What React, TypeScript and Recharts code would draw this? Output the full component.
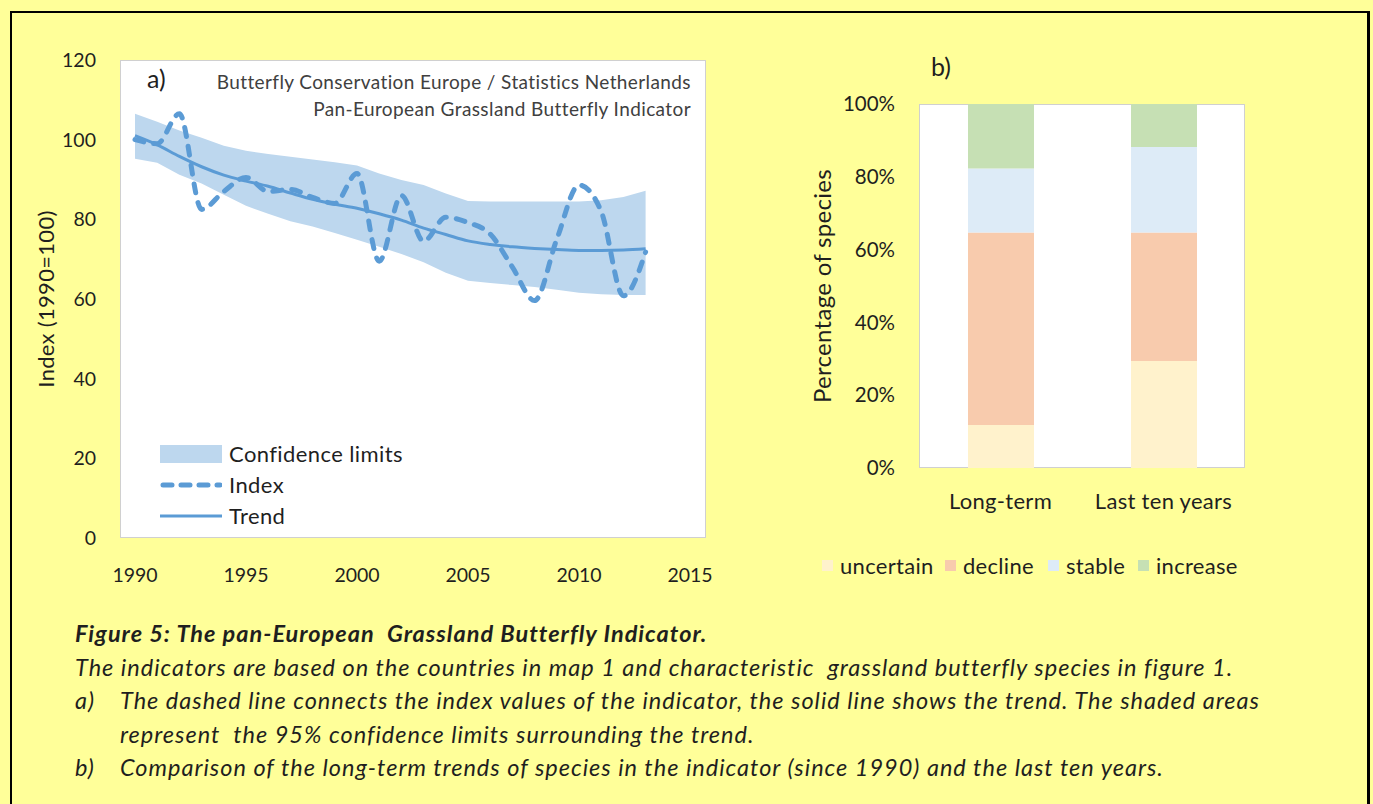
import React from 'react';
import { ComposedChart, Area, Line, XAxis, YAxis, BarChart, Bar, Legend } from 'recharts';

// panel a: grassland butterfly indicator (1990 = 100)
const years = [1990, 1991, 1992, 1993, 1994, 1995, 1996, 1997, 1998, 1999, 2000, 2001, 2002, 2003, 2004, 2005, 2006, 2007, 2008, 2009, 2010, 2011, 2012, 2013];
const indexValues = [100, 99, 106.5, 82.5, 87, 90.5, 87, 87.5, 85.5, 84, 91.5, 69.5, 86, 74.5, 80.5, 79.2, 76.3, 68, 59.6, 75, 88.6, 82, 60.8, 71.8];
const trendValues = [101, 98.7, 95.8, 93.2, 91.1, 89.6, 88.3, 86.6, 85.0, 83.8, 82.8, 81.4, 79.8, 77.8, 76.2, 74.6, 73.7, 73.1, 72.7, 72.4, 72.2, 72.2, 72.3, 72.6];
const upperLimits = [106.5, 104.5, 102.3, 100.5, 98.5, 97.2, 96.4, 95.7, 95.0, 94.3, 93.5, 91.5, 89.9, 88.6, 86.5, 84.6, 84.5, 84.5, 84.5, 84.5, 84.5, 84.8, 85.6, 87.2];
const lowerLimits = [95.2, 94.2, 91.2, 89.0, 86.2, 83.4, 81.4, 79.5, 78.2, 76.6, 74.9, 73.1, 71.3, 69.2, 66.6, 64.6, 64.0, 63.5, 63.0, 62.3, 61.6, 61.2, 61.0, 61.0];
const yearTicks = [1990, 1995, 2000, 2005, 2010, 2015];
const indexTicks = [0, 20, 40, 60, 80, 100, 120];

// panel b: share of species per trend class
const periods = ['Long-term', 'Last ten years'];
const uncertainPct = [11.8, 29.4];
const declinePct = [52.9, 35.3];
const stablePct = [17.6, 23.5];
const increasePct = [17.7, 11.8];
const pctTicks = [0, 20, 40, 60, 80, 100];

const FONT = 'Lato, "Open Sans", sans-serif';
const BLUE = '#5B9BD5';
const BAND = '#BDD7EE';
const INK = '#1f1f1f';

const indicatorData = years.map((year, i) => ({
  year,
  index: indexValues[i],
  trend: trendValues[i],
  band: [lowerLimits[i], upperLimits[i]],
}));

const speciesData = periods.map((period, i) => ({
  period,
  uncertain: uncertainPct[i],
  decline: declinePct[i],
  stable: stablePct[i],
  increase: increasePct[i],
}));

const classes = [
  { key: 'uncertain', color: '#FFF2CC', slot: 123 },
  { key: 'decline', color: '#F8CBAD', slot: 103 },
  { key: 'stable', color: '#DDEBF7', slot: 90 },
  { key: 'increase', color: '#C6E0B4', slot: 100 },
];

function IndicatorLegend() {
  const row = { display: 'flex', alignItems: 'center', height: 31 } as const;
  return (
    <div style={{ fontFamily: FONT, fontSize: 22, letterSpacing: 0.4, color: INK }}>
      <div style={row}>
        <svg width={62} height={18}><rect x={0} y={0} width={62} height={18} fill={BAND} /></svg>
        <span style={{ marginLeft: 7 }}>Confidence limits</span>
      </div>
      <div style={row}>
        <svg width={62} height={18}>
          <line x1={3} y1={9} x2={60} y2={9} stroke={BLUE} strokeWidth={5} strokeDasharray="9 9" strokeLinecap="round" />
        </svg>
        <span style={{ marginLeft: 7 }}>Index</span>
      </div>
      <div style={row}>
        <svg width={62} height={18}><line x1={0} y1={9} x2={62} y2={9} stroke={BLUE} strokeWidth={3} /></svg>
        <span style={{ marginLeft: 7 }}>Trend</span>
      </div>
    </div>
  );
}

function SpeciesLegend() {
  return (
    <div style={{ display: 'flex', alignItems: 'center', fontFamily: FONT, fontSize: 22, letterSpacing: 0.3, color: INK, whiteSpace: 'nowrap' }}>
      {classes.map((c) => (
        <div key={c.key} style={{ display: 'flex', alignItems: 'center', width: c.slot }}>
          <span style={{ display: 'inline-block', width: 11, height: 11, background: c.color, marginRight: 7 }} />
          <span>{c.key}</span>
        </div>
      ))}
    </div>
  );
}

const tickStyle = { fontFamily: FONT, fontSize: 19.5, fill: INK };

export default function App() {
  return (
    <div style={{ position: 'absolute', left: 0, top: 0, width: 1373, height: 804, background: '#FFFF99', overflow: 'hidden', fontFamily: FONT }}>
      <div style={{ position: 'absolute', left: 10, top: 11, width: 1360, height: 820, border: '2px solid #000', borderRightWidth: 3, boxSizing: 'border-box' }} />

      {/* panel a */}
      <div style={{ position: 'absolute', left: 120, top: 60, width: 586, height: 478, background: '#fff', border: '1px solid #d0d0d0', boxSizing: 'border-box' }} />
      <div style={{ position: 'absolute', left: 0, top: 0 }}>
        <ComposedChart width={720} height={600} data={indicatorData} margin={{ top: 60, right: 30, bottom: 20, left: 0 }}>
          <XAxis
            type="number"
            dataKey="year"
            domain={[1990, 2015]}
            ticks={yearTicks}
            axisLine={false}
            tickLine={false}
            tickSize={0}
            tickMargin={30}
            height={42}
            tick={tickStyle}
          />
          <YAxis
            domain={[0, 120]}
            ticks={indexTicks}
            axisLine={false}
            tickLine={false}
            tickSize={0}
            tickMargin={39}
            width={135}
            tick={tickStyle}
            label={{ value: 'Index (1990=100)', angle: -90, position: 'insideLeft', offset: 46, style: { textAnchor: 'middle', fontFamily: FONT, fontSize: 22, letterSpacing: 0.3, fill: INK } }}
          />
          <Area dataKey="band" name="Confidence limits" type="linear" stroke="none" fill={BAND} fillOpacity={1} isAnimationActive={false} />
          <Line dataKey="trend" name="Trend" type="monotone" stroke={BLUE} strokeWidth={3} dot={false} isAnimationActive={false} />
          <Line dataKey="index" name="Index" type="monotone" stroke={BLUE} strokeWidth={5} strokeDasharray="9 10" strokeLinecap="round" dot={false} isAnimationActive={false} />
          <Legend layout="horizontal" verticalAlign="middle" align="center" content={() => <IndicatorLegend />} wrapperStyle={{ left: 160, top: 438, width: 320 }} />
        </ComposedChart>
      </div>
      <div style={{ position: 'absolute', left: 147, top: 63, fontSize: 25, color: INK }}>a)</div>
      <div style={{ position: 'absolute', left: 0, top: 68, width: 691, textAlign: 'right', fontSize: 19, letterSpacing: 0.4, lineHeight: '27px', color: '#404040' }}>
        <div>Butterfly Conservation Europe / Statistics Netherlands</div>
        <div>Pan-European Grassland Butterfly Indicator</div>
      </div>

      {/* panel b */}
      <div style={{ position: 'absolute', left: 919, top: 104, width: 326, height: 364, background: '#fff', border: '1px solid #d0d0d0', boxSizing: 'border-box' }} />
      <div style={{ position: 'absolute', left: 790, top: 0 }}>
        <BarChart width={480} height={600} data={speciesData} margin={{ top: 104, right: 25, bottom: 92, left: 0 }} barSize={66}>
          <XAxis dataKey="period" axisLine={false} tickLine={false} tickSize={0} tickMargin={25} height={40} tick={{ ...tickStyle, fontSize: 22, letterSpacing: 0.3 }} />
          <YAxis
            domain={[0, 100]}
            ticks={pctTicks}
            tickFormatter={(v: number) => `${v}%`}
            axisLine={false}
            tickLine={false}
            tickSize={0}
            tickMargin={24}
            width={129}
            tick={{ ...tickStyle, fontSize: 20.5 }}
            label={{ value: 'Percentage of species', angle: -90, position: 'insideLeft', offset: 32, style: { textAnchor: 'middle', fontFamily: FONT, fontSize: 24, letterSpacing: 0.3, fill: INK } }}
          />
          {classes.map((c) => (
            <Bar key={c.key} dataKey={c.key} name={c.key} stackId="s" fill={c.color} isAnimationActive={false} />
          ))}
          <Legend layout="horizontal" verticalAlign="middle" align="center" content={() => <SpeciesLegend />} wrapperStyle={{ left: 32, top: 552, width: 460 }} />
        </BarChart>
      </div>
      <div style={{ position: 'absolute', left: 931, top: 51, fontSize: 25, color: INK }}>b)</div>

      {/* caption */}
      <div style={{ position: 'absolute', left: 75, top: 617, fontSize: 23.5, letterSpacing: 1.0, lineHeight: '33.5px', color: INK, fontStyle: 'italic', whiteSpace: 'pre' }}>
        <div style={{ fontWeight: 700 }}>Figure 5: The pan-European  Grassland Butterfly Indicator.</div>
        <div>The indicators are based on the countries in map 1 and characteristic  grassland butterfly species in figure 1.</div>
        <div style={{ display: 'flex' }}><span style={{ width: 45 }}>a)</span><span>The dashed line connects the index values of the indicator, the solid line shows the trend. The shaded areas</span></div>
        <div style={{ paddingLeft: 45 }}>represent  the 95% confidence limits surrounding the trend.</div>
        <div style={{ display: 'flex' }}><span style={{ width: 45 }}>b)</span><span>Comparison of the long-term trends of species in the indicator (since 1990) and the last ten years.</span></div>
      </div>
    </div>
  );
}
